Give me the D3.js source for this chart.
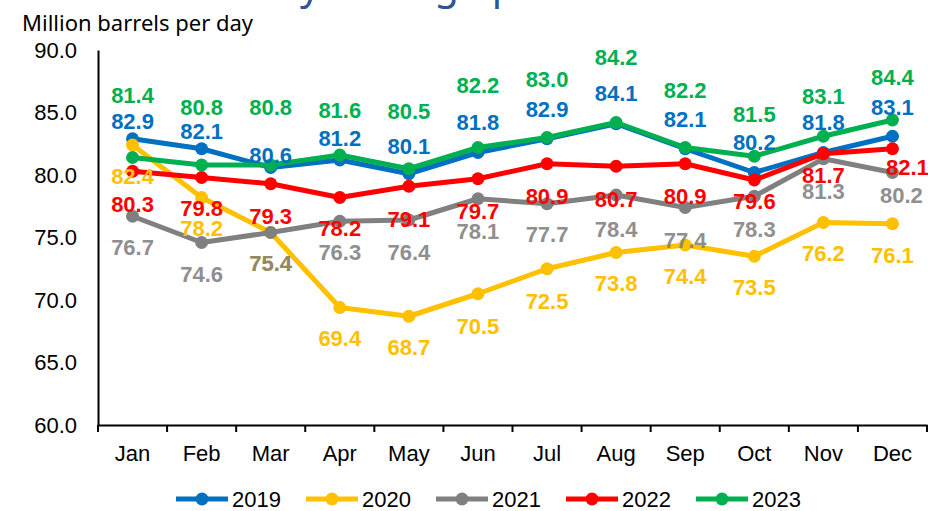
<!DOCTYPE html>
<html>
<head>
<meta charset="utf-8">
<script src="https://cdn.jsdelivr.net/npm/d3@7"></script>
<style>
  html, body { margin: 0; padding: 0; background: #fff; }
  svg { display: block; }
</style>
</head>
<body>
<svg id="chart"></svg>
<script>
// data ---------------------------------------------------------------
const months = ["Jan", "Feb", "Mar", "Apr", "May", "Jun", "Jul", "Aug", "Sep", "Oct", "Nov", "Dec"];
const years = ["2019", "2020", "2021", "2022", "2023"];
const yTicks = [60, 65, 70, 75, 80, 85, 90];

const v2019 = [82.9, 82.1, 80.6, 81.2, 80.1, 81.8, 82.9, 84.1, 82.1, 80.2, 81.8, 83.1];
const v2020 = [82.4, 78.2, 75.4, 69.4, 68.7, 70.5, 72.5, 73.8, 74.4, 73.5, 76.2, 76.1];
const v2021 = [76.7, 74.6, 75.4, 76.3, 76.4, 78.1, 77.7, 78.4, 77.4, 78.3, 81.3, 80.2];
const v2022 = [80.3, 79.8, 79.3, 78.2, 79.1, 79.7, 80.9, 80.7, 80.9, 79.6, 81.7, 82.1];
const v2023 = [81.4, 80.8, 80.8, 81.6, 80.5, 82.2, 83.0, 84.2, 82.2, 81.5, 83.1, 84.4];

const yLabel = "Million barrels per day";
const title = "Monthly average petroleum demand";

// styling ------------------------------------------------------------
const colors = ["#0070C0", "#FFC000", "#808080", "#FF0000", "#00B050"];
// label offsets (px from point, label centre) - hand placed like in the original
const labelDy = [
    [-18, -18, -12, -22, -28, -30, -30, -31, -30, -30, -30, -29],
    [31, 31, 31, 31, 31, 32, 32, 31, 31, 31, 31, 31],
    [31, 32, 31, 31, 32, 32, 30, 34, 33, 33, 32, 23],
    [33, 31, 32, 31, 33, 32, 32, 33, 32, 21, 21, 18],
    [-62, -58, -58, -45, -58, -62, -58, -65, -57, -42, -40, -43]
];
const labelDx = [
    [0, 0, 0, 0, 0, 0, 0, 0, 0, 0, 0, 0],
    [0, 0, 0, 0, 0, 0, 0, 0, 0, 0, 0, 0],
    [0, 0, 0, 0, 0, 0, 0, 0, 0, 0, 0, 9],
    [0, 0, 0, 0, 0, 0, 0, 0, 0, 0, 0, 15],
    [0, 0, 0, 0, 0, 0, 0, 0, 0, 0, 0, 0]
];

const series = years.map((y, i) => ({
    name: y,
    values: [v2019, v2020, v2021, v2022, v2023][i],
    color: colors[i]
}));

const width = 928, height = 511;
const margin = { top: 50, right: 1, bottom: 86, left: 98 };

const svg = d3.select("#chart")
    .attr("width", width)
    .attr("height", height)
    .attr("viewBox", `0 0 ${width} ${height}`);

const x = d3.scaleBand()
    .domain(months)
    .range([margin.left, width - margin.right]);

const y = d3.scaleLinear()
    .domain([60, 90])
    .range([height - margin.bottom, margin.top]);

//title (cut off at top of the picture, only descenders show)
const titleText = svg.append("text")
    .attr("y", -1)
    .attr("font-family", "Noto Sans, Open Sans, sans-serif")
    .attr("font-size", 40)
    .attr("fill", "#2F5597")
    .text(title);
const yPos = titleText.node().getSubStringLength(0, title.indexOf("y"));
titleText.attr("x", 300 - yPos);

//y axis title
svg.append("text")
    .attr("x", 22)
    .attr("y", 31)
    .attr("font-family", "Noto Sans, Open Sans, sans-serif")
    .attr("font-size", 22)
    .attr("fill", "#000")
    .text(yLabel);

//axes
const yAxis = svg.append("g")
    .attr("transform", `translate(${margin.left},0)`)
    .call(d3.axisLeft(y).tickValues(yTicks).tickSize(0).tickPadding(21).tickFormat(d3.format(".1f")));
yAxis.select(".domain").attr("stroke", "#000").attr("stroke-width", 2);
yAxis.selectAll("text")
    .attr("font-family", "Liberation Sans, Arial, sans-serif")
    .attr("font-size", 22)
    .attr("fill", "#000");

const xAxis = svg.append("g")
    .attr("transform", `translate(0,${height - margin.bottom})`)
    .call(d3.axisBottom(x).tickSize(0).tickPadding(20));
xAxis.select(".domain").attr("stroke", "#000").attr("stroke-width", 2);
xAxis.selectAll("text")
    .attr("font-family", "Liberation Sans, Arial, sans-serif")
    .attr("font-size", 22)
    .attr("fill", "#000");

//tick marks on the band edges
const edges = months.map(m => x(m)).concat([x.range()[1]]);
svg.append("g")
    .selectAll("line")
    .data(edges)
    .join("line")
    .attr("x1", d => d)
    .attr("x2", d => d)
    .attr("y1", height - margin.bottom)
    .attr("y2", height - margin.bottom + 7)
    .attr("stroke", "#000")
    .attr("stroke-width", 2);

//lines and markers
const cx = m => x(m) + x.bandwidth() / 2;
const line = d3.line()
    .x((d, i) => cx(months[i]))
    .y(d => y(d));

const seriesG = svg.append("g")
    .selectAll("g")
    .data(series)
    .join("g");

seriesG.append("path")
    .attr("d", d => line(d.values))
    .attr("fill", "none")
    .attr("stroke", d => d.color)
    .attr("stroke-width", 5)
    .attr("stroke-linejoin", "round");

seriesG.selectAll("circle")
    .data(d => d.values.map(v => ({ v, color: d.color })))
    .join("circle")
    .attr("cx", (d, i) => cx(months[i]))
    .attr("cy", d => y(d.v))
    .attr("r", 6.5)
    .attr("fill", d => d.color);

//data labels (on top of everything)
const labelG = svg.append("g");
series.forEach((s, si) => {
    labelG.append("g")
        .attr("opacity", si === 2 ? 0.88 : 1)
        .selectAll("text")
        .data(s.values)
        .join("text")
        .attr("x", (d, i) => cx(months[i]) + labelDx[si][i])
        .attr("y", (d, i) => y(d) + labelDy[si][i])
        .attr("dy", "0.36em")
        .attr("text-anchor", "middle")
        .attr("font-family", "Liberation Sans, Arial, sans-serif")
        .attr("font-weight", "bold")
        .attr("font-size", 22)
        .attr("fill", s.color)
        .text(d => d3.format(".1f")(d));
});

//legend
const legend = svg.append("g")
    .attr("transform", "translate(176,499)");
const item = legend.selectAll("g")
    .data(series)
    .join("g")
    .attr("transform", (d, i) => `translate(${i * 130},0)`);
item.append("line")
    .attr("x1", 0)
    .attr("x2", 52)
    .attr("stroke", d => d.color)
    .attr("stroke-width", 5);
item.append("circle")
    .attr("cx", 26)
    .attr("r", 6.5)
    .attr("fill", d => d.color);
item.append("text")
    .attr("x", 56)
    .attr("dy", "0.36em")
    .attr("font-family", "Liberation Sans, Arial, sans-serif")
    .attr("font-size", 22)
    .attr("fill", "#000")
    .text(d => d.name);
</script>
</body>
</html>
